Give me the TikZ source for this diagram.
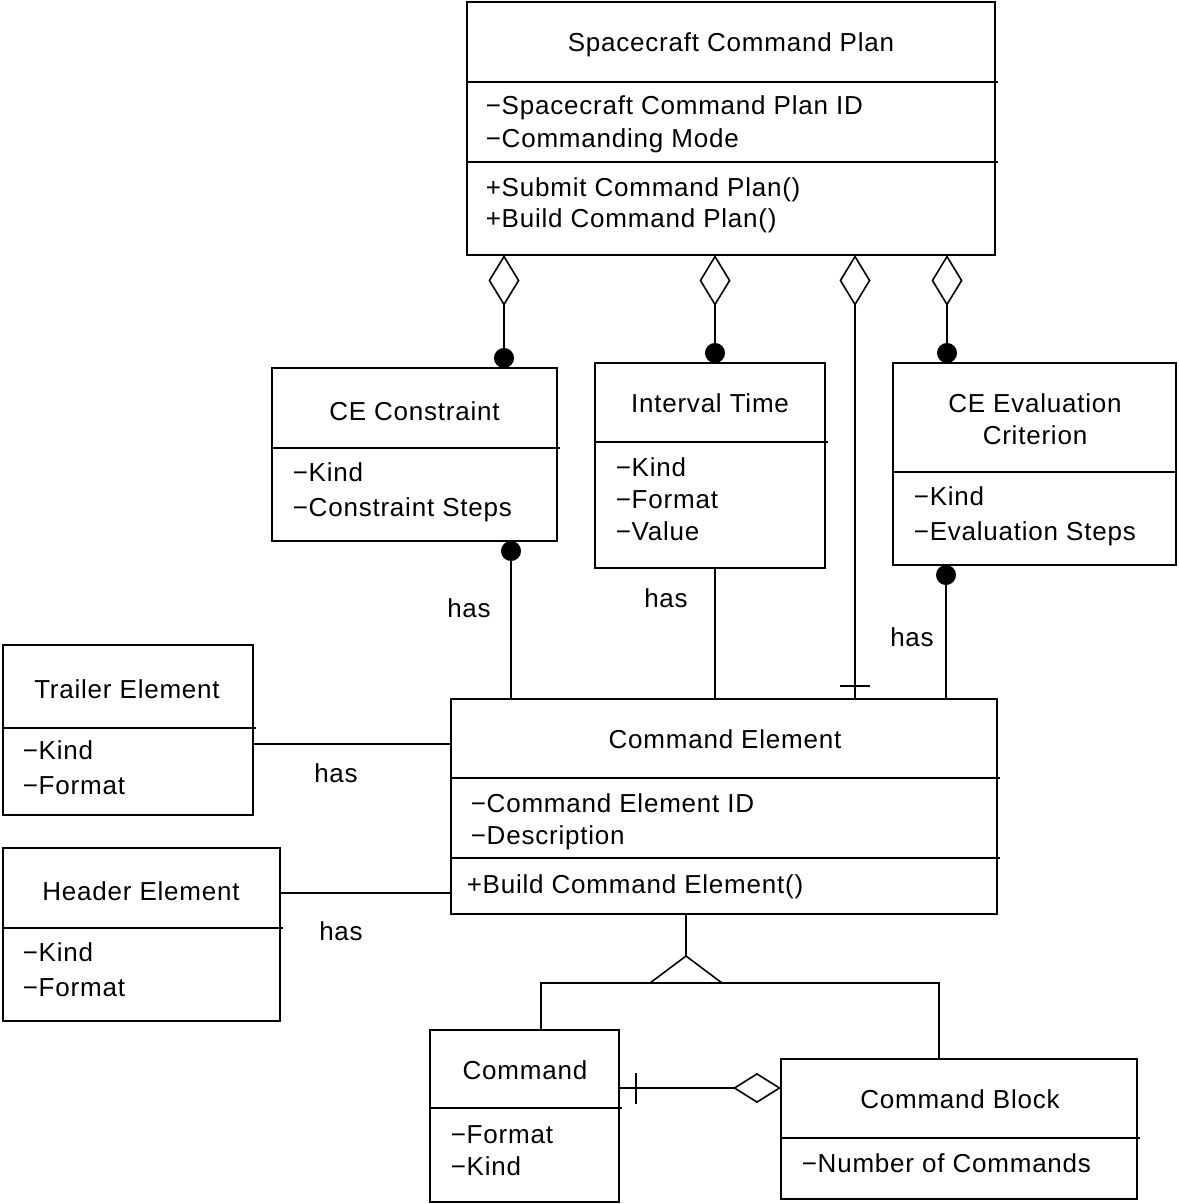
\documentclass[tikz,border=0pt]{standalone}
\usepackage{fontspec}
\setmainfont{Liberation Sans}[LetterSpace=3]
\usetikzlibrary{arrows.meta}

\tikzset{
	umlbox/.style={draw, inner sep=0pt, outer sep=0pt},
	umltext/.style={anchor=base west, inner sep=0pt, font=\fontsize{26}{30}\selectfont},
	umltitle/.style={anchor=base, inner sep=0pt, font=\fontsize{26}{30}\selectfont},
	aggr/.tip={Diamond[open, length=51pt, width=31pt]},
	comp/.tip={Circle[length=20pt]},
}

\begin{document}
\begin{tikzpicture}[x=1pt,y=1pt,yscale=-1,line width=1.6pt]
	%set diagram to the reference size
	\useasboundingbox (0,0) rectangle (1178,1204);

	% Class Spacecraft Command Plan
	\node [umlbox, minimum width=528pt, minimum height=253pt] (plan) at (731,128.5) {};
	\draw (467,82) -- (998,82);
	\draw (467,162) -- (998,162);
	% Text Node
	\node [umltitle] (plantitle) at (731,52) {Spacecraft Command Plan};
	\node [umltext] (planid) at (485,115) {−Spacecraft Command Plan ID};
	\node [umltext] (planmode) at (485,147) {−Commanding Mode};
	\node [umltext] (plansubmit) at (485,196) {+Submit Command Plan()};
	\node [umltext] (planbuild) at (485,227) {+Build Command Plan()};

	% Class CE Constraint
	\node [umlbox, minimum width=285pt, minimum height=173pt] (cec) at (414.5,454.5) {};
	\draw (272,448) -- (560,448);
	% Text Node
	\node [umltitle] (cectitle) at (414.5,420) {CE Constraint};
	\node [umltext] (ceckind) at (292,481) {−Kind};
	\node [umltext] (cecsteps) at (292,516) {−Constraint Steps};

	% Class Interval Time
	\node [umlbox, minimum width=230pt, minimum height=205pt] (itime) at (710,465.5) {};
	\draw (595,442) -- (828,442);
	% Text Node
	\node [umltitle] (itimetitle) at (710,412) {Interval Time};
	\node [umltext] (itimekind) at (615,476) {−Kind};
	\node [umltext] (itimeformat) at (615,508) {−Format};
	\node [umltext] (itimevalue) at (615,540) {−Value};

	% Class CE Evaluation Criterion
	\node [umlbox, minimum width=283pt, minimum height=202pt] (ceval) at (1034.5,464) {};
	\draw (893,472) -- (1176,472);
	% Text Node
	\node [umltitle] (cevaltitle) at (1035,412) {CE Evaluation};
	\node [umltitle] (cevaltitleb) at (1035,444) {Criterion};
	\node [umltext] (cevalkind) at (913,505) {−Kind};
	\node [umltext] (cevalsteps) at (913,540) {−Evaluation Steps};

	% Class Trailer Element
	\node [umlbox, minimum width=250pt, minimum height=170pt] (trail) at (128,730) {};
	\draw (3,728) -- (256,728);
	% Text Node
	\node [umltitle] (trailtitle) at (127,698) {Trailer Element};
	\node [umltext] (trailkind) at (22,759) {−Kind};
	\node [umltext] (trailformat) at (22,794) {−Format};

	% Class Header Element
	\node [umlbox, minimum width=277pt, minimum height=173pt] (head) at (141.5,934.5) {};
	\draw (3,928) -- (283,928);
	% Text Node
	\node [umltitle] (headtitle) at (141,900) {Header Element};
	\node [umltext] (headkind) at (22,961) {−Kind};
	\node [umltext] (headformat) at (22,996) {−Format};

	% Class Command Element
	\node [umlbox, minimum width=546pt, minimum height=215pt] (celem) at (724,806.5) {};
	\draw (451,778) -- (1000,778);
	\draw (451,858) -- (1000,858);
	% Text Node
	\node [umltitle] (celemtitle) at (725,748) {Command Element};
	\node [umltext] (celemid) at (470,812) {−Command Element ID};
	\node [umltext] (celemdesc) at (470,844) {−Description};
	\node [umltext] (celembuild) at (466,893) {+Build Command Element()};

	% Class Command
	\node [umlbox, minimum width=189pt, minimum height=172pt] (cmd) at (524.5,1116) {};
	\draw (430,1108) -- (622,1108);
	% Text Node
	\node [umltitle] (cmdtitle) at (525,1079) {Command};
	\node [umltext] (cmdformat) at (450,1143) {−Format};
	\node [umltext] (cmdkind) at (450,1175) {−Kind};

	% Class Command Block
	\node [umlbox, minimum width=356pt, minimum height=140pt] (cblk) at (959,1129) {};
	\draw (781,1138) -- (1140,1138);
	% Text Node
	\node [umltitle] (cblktitle) at (960,1108) {Command Block};
	\node [umltext] (cblknum) at (801,1172) {−Number of Commands};

	% Connection
	\draw [aggr-comp] (plan.south -| 504,0) -- (cec.north -| 504,0);
	% Connection
	\draw [aggr-comp] (plan.south -| 715,0) -- (itime.north -| 715,0);
	% Connection
	\draw [aggr-] (plan.south -| 855,0) -- (celem.north -| 855,0);
	\draw (840,686) -- (870,686);
	% Connection
	\draw [aggr-comp] (plan.south -| 947,0) -- (ceval.north -| 947,0);
	% Connection
	\draw [comp-] (cec.south -| 511,0) -- (celem.north -| 511,0);
	% Connection
	\draw (itime.south -| 715,0) -- (celem.north -| 715,0);
	% Connection
	\draw [comp-] (ceval.south -| 946,0) -- (celem.north -| 946,0);
	% Connection
	\draw (trail.east |- 0,744) -- (celem.west |- 0,744);
	% Connection
	\draw (head.east |- 0,893) -- (celem.west |- 0,893);
	% Connection
	\draw [-{Diamond[open, length=48pt, width=30pt]}] (cmd.east |- 0,1088) -- (cblk.west |- 0,1088);
	\draw (636,1073) -- (636,1104);

	% Generalisation
	\coordinate (hub) at (686,983);
	\coordinate (apex) at (686,956);
	\draw (celem.south -| apex) -- (apex);
	\draw (650,983) -- (apex) -- (722,983);
	\draw (cmd.north -| 541,0) |- (hub);
	\draw (cblk.north -| 939,0) |- (hub);

	% Text Node
	\node [umltitle] (hasa) at (469,617) {has};
	\node [umltitle] (hasb) at (666,607) {has};
	\node [umltitle] (hasc) at (912,646) {has};
	\node [umltitle] (hasd) at (336,782) {has};
	\node [umltitle] (hase) at (341,940) {has};

\end{tikzpicture}
\end{document}
